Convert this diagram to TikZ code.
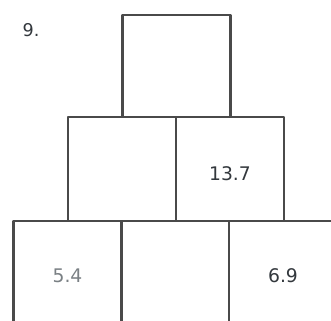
\documentclass[tikz,border=0pt]{standalone}
\usepackage{fontspec}
\setmainfont{DejaVu Sans}
\begin{document}
\begin{tikzpicture}[x=0.03cm,y=-0.03cm,line cap=round,line join=round]
  \definecolor{brickline}{HTML}{4A4A4A}
  \definecolor{givengray}{HTML}{7A8084}
  \definecolor{givendark}{HTML}{33383D}
  \tikzset{brick/.style={draw=brickline,line width=2pt,fill=none,inner sep=0pt,
      minimum width=3.24cm,font=\fontsize{16}{18}\selectfont}}
  % Page frame; the lowest row runs off the bottom edge.
  \useasboundingbox (0,0) rectangle (331,321);
  \clip (0,0) rectangle (331,321);
  \node[text=givendark,font=\fontsize{15}{17}\selectfont] (num) at (31,30) {9.};
  % Pyramid rows, top to bottom.
  \node[brick,minimum height=3.06cm] (top) at (176.5,66) {};
  \node[brick,minimum height=3.12cm] (midL) at (122,169) {};
  \node[brick,minimum height=3.12cm] (midR) at (230,169) {};
  \node[brick,minimum height=3.3cm,text=givengray] (botL) at (67.5,276) {5.4};
  \node[brick,minimum height=3.3cm] (botM) at (175,276) {};
  \node[brick,minimum height=3.3cm,text=givendark] (botR) at (283,276) {6.9};
  % Given value sits a little below the middle of its brick.
  \node[text=givendark,font=\fontsize{16}{18}\selectfont] (given) at ([yshift=-0.14cm]midR.center) {13.7};
\end{tikzpicture}
\end{document}
